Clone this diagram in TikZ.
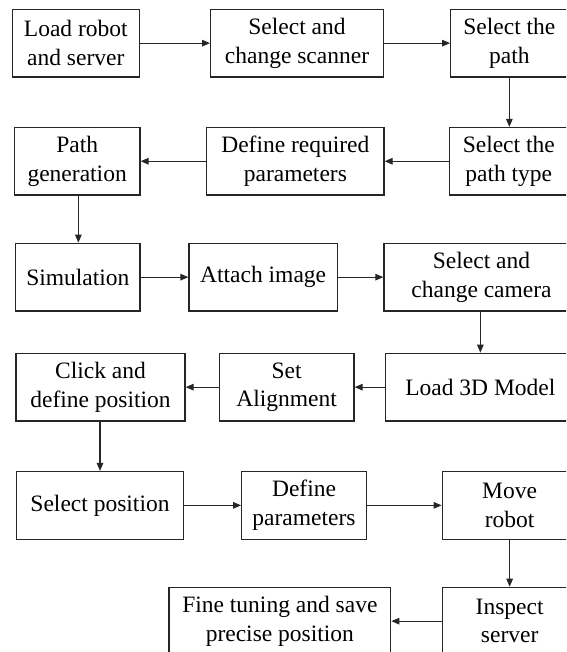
\documentclass[tikz,border=0pt]{standalone}
\usepackage{fontspec}
\setmainfont{Liberation Serif}
\usetikzlibrary{arrows.meta}
\tikzset{
  box/.style={draw=black!85, line width=1.2pt, rectangle, inner sep=0pt, align=center,
    font=\fontsize{23.5}{28.5}\selectfont, minimum height=67.7pt},
  conn/.style={draw=black!85, line width=1.1pt, -{Triangle[length=8pt,width=6.5pt]}}
}
\begin{document}
\begin{tikzpicture}[x=1pt,y=-1pt]
\useasboundingbox (0,0) rectangle (566,652);
\clip (0,0) rectangle (566,652);
% row 1
\node[box, minimum width=127pt] (load) at (75.8,43.15) {Load robot\\and server};
\node[box, minimum width=172.7pt] (scan) at (297,43.15) {Select and\\change scanner};
\node[box, minimum width=117.3pt] (path) at (509.35,43.15) {Select the\\path};
% row 2
\node[box, minimum width=118.5pt, minimum height=67.5pt] (ptype) at (508.75,161.25) {Select the\\path type};
\node[box, minimum width=177.3pt, minimum height=67.5pt] (defreq) at (295.35,161.25) {Define required\\parameters};
\node[box, minimum width=125.7pt, minimum height=67.5pt] (pgen) at (77.15,161.25) {Path\\generation};
% row 3
\node[box, minimum width=124.3pt] (sim) at (77.85,277.15) {Simulation};
\node[box, minimum width=148.3pt] (attach) at (263.15,277.15) {Attach image};
\node[box, minimum width=195pt] (cam) at (481.5,277.15) {Select and\\change camera};
% row 4
\node[box, minimum width=189.3pt] (model) at (480.35,387.15) {Load 3D Model};
\node[box, minimum width=134.7pt] (align) at (286.65,387.15) {Set\\Alignment};
\node[box, minimum width=169pt] (click) at (100.5,387.15) {Click and\\define position};
% row 5
\node[box, minimum width=166.6pt] (selpos) at (100,505.35) {Select position};
\node[box, minimum width=124.6pt] (defpar) at (304,505.35) {Define\\parameters};
\node[box, minimum width=134.7pt] (move) at (509.65,505.35) {Move\\robot};
% row 6
\node[box, minimum width=134.7pt] (insp) at (509.65,621.15) {Inspect\\server};
\node[box, minimum width=221.7pt] (fine) at (279.85,621.15) {Fine tuning and save\\precise position};
% connectors
\draw[conn] (load.east) -- (scan.west);
\draw[conn] (scan.east) -- (path.west);
\draw[conn] (path.south) -- (path.south |- ptype.north);
\draw[conn] (ptype.west) -- (defreq.east);
\draw[conn] (defreq.west) -- (pgen.east);
\draw[conn] ([xshift=1.2pt]pgen.south) -- ([xshift=1.2pt]pgen.south |- sim.north);
\draw[conn] (sim.east) -- (attach.west);
\draw[conn] (attach.east) -- (cam.west);
\draw[conn] (model.north |- cam.south) -- (model.north);
\draw[conn] (model.west) -- (align.east);
\draw[conn] (align.west) -- (click.east);
\draw[conn] (selpos.north |- click.south) -- (selpos.north);
\draw[conn] (selpos.east) -- (defpar.west);
\draw[conn] (defpar.east) -- (move.west);
\draw[conn] (move.south) -- (move.south |- insp.north);
\draw[conn] (insp.west) -- (fine.east);
\end{tikzpicture}
\end{document}
